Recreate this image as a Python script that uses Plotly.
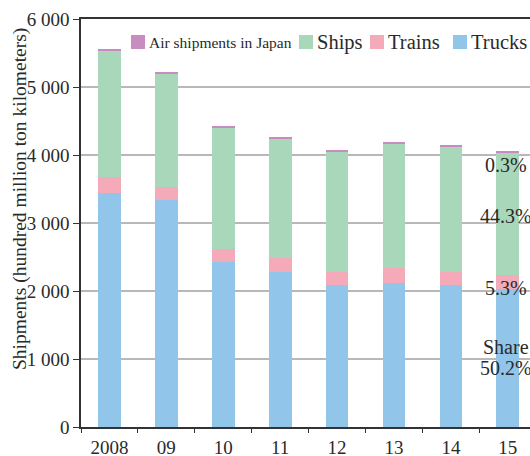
import plotly.graph_objects as go

years = ["2008", "09", "10", "11", "12", "13", "14", "15"]
trucks = [3446, 3334, 2421, 2283, 2082, 2116, 2082, 2032]
trains = [227, 196, 196, 206, 201, 226, 201, 207]
ships = [1865, 1675, 1792, 1753, 1773, 1832, 1836, 1796]
air = [20, 19, 20, 20, 19, 19, 20, 20]

series_names = ["Trucks", "Trains", "Ships", "Air shipments in Japan"]
series_colors = ["#92C5EA", "#F4AAB9", "#A8D7BA", "#C98CC1"]

y_tickvals = [0, 1000, 2000, 3000, 4000, 5000, 6000]
y_ticktext = ["0", "1 000", "2 000", "3 000", "4 000", "5 000", "6 000"]

share_labels = ["0.3%", "44.3%", "5.3%", "Share", "50.2%"]
share_label_y = [4000 - 140, 3000 + 100, 2000 + 40, 1170, 870]

FONT = "Liberation Serif"
TXT = "#2a2a2a"

W, H = 530, 456
ML, MR, MT, MB = 81, 0, 19, 29
PW, PH = W - ML - MR, H - MT - MB


def px_x(px):
    return (px - ML) / PW


def px_y(py):
    return (H - MB - py) / PH


fig = go.Figure()
for vals, name, col in zip([trucks, trains, ships, air], series_names, series_colors):
    fig.add_trace(go.Bar(
        x=years, y=vals, name=name, width=0.4,
        marker=dict(color=col, line=dict(width=0)),
        showlegend=False,
    ))

annotations = []
# share labels next to the last bar (category index of the last year)
last_idx = len(years) - 1
for txt, yv in zip(share_labels, share_label_y):
    annotations.append(dict(
        x=last_idx, y=yv, xref="x", yref="y", text=txt, showarrow=False,
        xanchor="center", yanchor="middle", xshift=-2,
        font=dict(family=FONT, size=20, color=TXT),
    ))

# y-axis title
annotations.append(dict(
    x=px_x(20), y=px_y(199), xref="paper", yref="paper",
    text="Shipments (hundred million ton kilometers)", textangle=-90,
    showarrow=False, xanchor="center", yanchor="middle",
    font=dict(family=FONT, size=19.5, color=TXT),
))

# manual legend
legend_items = [
    ("Air shipments in Japan", series_colors[3], 131, 15.5),
    ("Ships", series_colors[2], 299, 20.5),
    ("Trains", series_colors[1], 370, 20.5),
    ("Trucks", series_colors[0], 453, 20.5),
]
shapes = []
for name, col, x0, fs in legend_items:
    shapes.append(dict(
        type="rect", xref="paper", yref="paper",
        x0=px_x(x0), x1=px_x(x0 + 14), y0=px_y(49), y1=px_y(35),
        fillcolor=col, line=dict(width=0),
    ))
    annotations.append(dict(
        x=px_x(x0 + 16), y=px_y(42), xref="paper", yref="paper",
        text=name, showarrow=False, xanchor="left", yanchor="middle",
        font=dict(family=FONT, size=fs, color=TXT),
    ))

fig.update_layout(
    width=W, height=H,
    margin=dict(l=ML, r=MR, t=MT, b=MB, pad=0, autoexpand=False),
    barmode="stack",
    plot_bgcolor="white", paper_bgcolor="white",
    font=dict(family=FONT, size=19, color=TXT),
    annotations=annotations,
    shapes=shapes,
    showlegend=False,
)
fig.update_xaxes(
    type="category", range=[-0.5, 7.39], automargin=False,
    showline=True, linecolor="#333333", linewidth=1.5, mirror=True,
    ticks="outside", tickson="boundaries", ticklen=4, tickcolor="#333333",
    tickfont=dict(family=FONT, size=19, color=TXT),
    ticklabelstandoff=2,
    showgrid=False,
)
fig.update_yaxes(
    range=[0, 6000], tickvals=y_tickvals, ticktext=y_ticktext, automargin=False,
    showline=True, linecolor="#333333", linewidth=1.5,
    ticks="outside", ticklen=6, tickcolor="#333333",
    tickfont=dict(family=FONT, size=19, color=TXT),
    showgrid=True, gridcolor="#b8b8b8", gridwidth=1.5,
    zeroline=False,
)

fig.write_html(
    "out.html",
    config={"displayModeBar": False},
    post_script="document.body.style.margin='0';document.body.style.overflow='hidden';",
)
